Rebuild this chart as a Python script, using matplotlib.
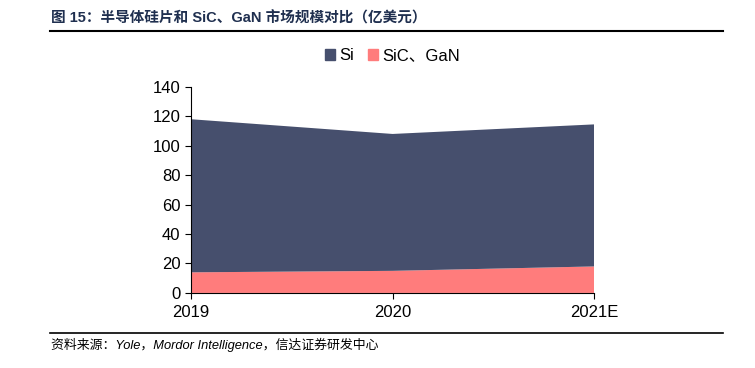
import matplotlib
matplotlib.use("Agg")
import matplotlib.pyplot as plt
from matplotlib.lines import Line2D
from matplotlib.patches import Patch

categories = ["2019", "2020", "2021E"]
si_values = [104, 93, 96.5]
sic_gan_values = [14, 15, 18]
y_ticks = [0, 20, 40, 60, 80, 100, 120, 140]

plt.rcParams['font.family'] = ['Liberation Sans', 'Noto Sans CJK SC', 'DejaVu Sans']

fig = plt.figure(figsize=(7.55, 3.68), dpi=100)
ax = fig.add_axes([0.253, 0.204, 0.534, 0.56])

x = list(range(len(categories)))
c_si = "#464F6D"
c_sic = "#FF7C7C"
ax.stackplot(x, sic_gan_values, si_values, colors=[c_sic, c_si], linewidth=0)

ax.set_xlim(0, len(categories) - 1)
ax.set_ylim(0, 140)
ax.set_yticks(y_ticks)
ax.set_xticks(x)
ax.set_xticklabels(categories)
for s in ["top", "right"]:
    ax.spines[s].set_visible(False)
ax.spines["left"].set_color("#000000")
ax.spines["bottom"].set_color("#000000")
ax.tick_params(axis="both", direction="out", length=4, labelsize=12, colors="#000000")
ax.tick_params(axis="x", pad=5)

handles = [Patch(color=c_si, label="Si"), Patch(color=c_sic, label="SiC、GaN")]
fig.legend(handles=handles, loc="center", bbox_to_anchor=(0.52, 0.848), ncol=2,
           frameon=False, handlelength=0.6, handleheight=0.6,
           handletextpad=0.3, columnspacing=0.8,
           prop={'family': ['Liberation Sans', 'Noto Sans CJK SC'], 'size': 12})

fig.text(0.068, 0.951, "图 15：半导体硅片和 SiC、GaN 市场规模对比（亿美元）",
         fontsize=10.5, fontweight="bold", color="#1F2F4F", va="center",
         family=['Liberation Sans', 'Noto Sans CJK SC'])
fig.add_artist(Line2D([0.066, 0.958], [0.917, 0.917], color="#000000", lw=1.5))
fig.add_artist(Line2D([0.066, 0.958], [0.094, 0.094], color="#000000", lw=1.2))
fig.text(0.068, 0.063, "资料来源：Yole，Mordor Intelligence，信达证券研发中心",
         fontsize=9.3, style="italic", color="#000000", va="center",
         family=['Liberation Sans', 'Noto Sans CJK SC'])

fig.savefig("out.png", dpi=100)
